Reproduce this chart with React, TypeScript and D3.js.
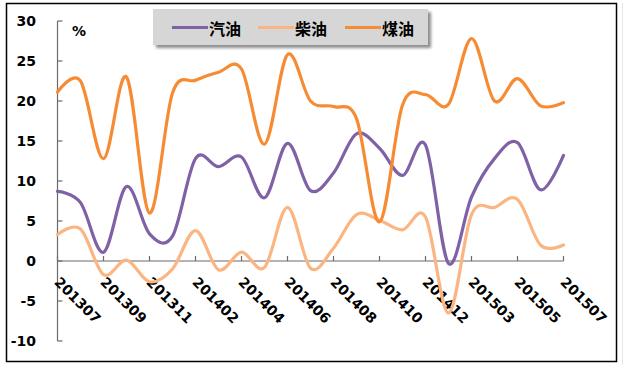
import React from "react";
import * as d3 from "d3";

const categories = [
  "201307", "201308", "201309", "201310", "201311", "201312",
  "201402", "201403", "201404", "201405", "201406", "201407",
  "201408", "201409", "201410", "201411", "201412",
  "201502", "201503", "201504", "201505", "201506", "201507",
];
const gasoline = [8.7, 7.3, 1.1, 9.3, 3.4, 3.1, 12.8, 11.8, 13.0, 7.9, 14.7, 8.8, 11.0, 15.9, 14.1, 10.7, 14.5, -0.3, 8.0, 12.8, 14.8, 8.9, 13.2];
const diesel = [3.3, 4.0, -1.7, 0.1, -2.6, -1.0, 3.8, -1.1, 1.1, -0.8, 6.7, -0.9, 1.6, 5.8, 5.1, 3.9, 5.5, -6.5, 5.8, 6.7, 7.7, 2.0, 2.0];
const kerosene = [21.1, 22.5, 12.8, 23.0, 6.0, 21.0, 22.6, 23.6, 24.0, 14.6, 25.8, 20.0, 19.3, 17.8, 4.9, 19.5, 20.8, 19.6, 27.8, 20.0, 22.8, 19.4, 19.8];
const yTicks = [-10, -5, 0, 5, 10, 15, 20, 25, 30];
const xLabels = categories.filter((_, i) => i % 2 === 0);

const seriesNames = ["汽油", "柴油", "煤油"];
const seriesColors = ["#7F62A6", "#FBB582", "#F68B33"];

export default function App() {
  const x = d3.scalePoint<string>().domain(categories).range([57.5, 563.5]);
  const y = d3.scaleLinear().domain([-10, 30]).range([341, 21]);
  const line = d3
    .line<number>()
    .x((_, i) => x(categories[i]) as number)
    .y((d) => y(d))
    .curve(d3.curveCardinal.tension(0));
  const data = [gasoline, diesel, kerosene];
  const numFont = "'DejaVu Sans', sans-serif";
  const cjkFont = "'Noto Sans CJK SC', sans-serif";
  const axisColor = "#6b6b6b";
  const legendX = [172, 258, 345];

  return (
    <svg
      width={628}
      height={369}
      style={{ position: "absolute", left: 0, top: 0, background: "#fff" }}
    >
      <defs>
        <filter id="sh" x="-10%" y="-30%" width="130%" height="180%">
          <feGaussianBlur in="SourceAlpha" stdDeviation="1.5" />
          <feOffset dx="3" dy="3" result="b" />
          <feComponentTransfer>
            <feFuncA type="linear" slope="0.45" />
          </feComponentTransfer>
          <feMerge>
            <feMergeNode />
            <feMergeNode in="SourceGraphic" />
          </feMerge>
        </filter>
      </defs>
      <rect x={6.5} y={3.5} width={610} height={358} fill="#fff" stroke="#000" strokeWidth={1.5} />
      <line x1={622.5} y1={3} x2={622.5} y2={365} stroke="#e6e6e6" strokeWidth={1} />

      {/* y axis */}
      <line x1={57.5} y1={y(30)} x2={57.5} y2={y(-10)} stroke={axisColor} strokeWidth={1.2} />
      {yTicks.map((t) => (
        <g key={t}>
          <line x1={57.5} x2={62.5} y1={y(t)} y2={y(t)} stroke={axisColor} strokeWidth={1.2} />
          <text
            x={36}
            y={y(t)}
            textAnchor="end"
            dominantBaseline="central"
            fontFamily={numFont}
            fontWeight="bold"
            fontSize={14}
            fill="#000"
          >
            {t}
          </text>
        </g>
      ))}
      {/* x axis */}
      <line x1={57.5} x2={563.5} y1={y(0)} y2={y(0)} stroke={axisColor} strokeWidth={1.2} />
      {xLabels.map((c) => (
        <g key={c}>
          <line x1={x(c)} x2={x(c)} y1={y(0)} y2={y(0) - 5} stroke={axisColor} strokeWidth={1.2} />
          <text
            transform={`translate(${(x(c) as number) - 4},${283}) rotate(45)`}
            fontFamily={numFont}
            fontWeight="bold"
            fontSize={14}
            fill="#000"
          >
            {c}
          </text>
        </g>
      ))}
      <text x={72} y={36} fontFamily={numFont} fontWeight="bold" fontSize={14} fill="#000">
        %
      </text>

      {/* lines */}
      {data.map((d, i) => (
        <path
          key={i}
          d={line(d) as string}
          fill="none"
          stroke={seriesColors[i]}
          strokeWidth={3.2}
          strokeLinejoin="round"
          strokeLinecap="round"
        />
      ))}

      {/* legend */}
      <rect x={153} y={9} width={275} height={36} fill="#d6d6d6" filter="url(#sh)" />
      {seriesNames.map((n, i) => (
        <g key={n}>
          <line
            x1={legendX[i]}
            x2={legendX[i] + 36}
            y1={27.5}
            y2={27.5}
            stroke={seriesColors[i]}
            strokeWidth={3.2}
          />
          <text
            x={legendX[i] + 37}
            y={27.5}
            dominantBaseline="central"
            fontFamily={cjkFont}
            fontWeight="bold"
            fontSize={16}
            fill="#000"
          >
            {n}
          </text>
        </g>
      ))}
    </svg>
  );
}
